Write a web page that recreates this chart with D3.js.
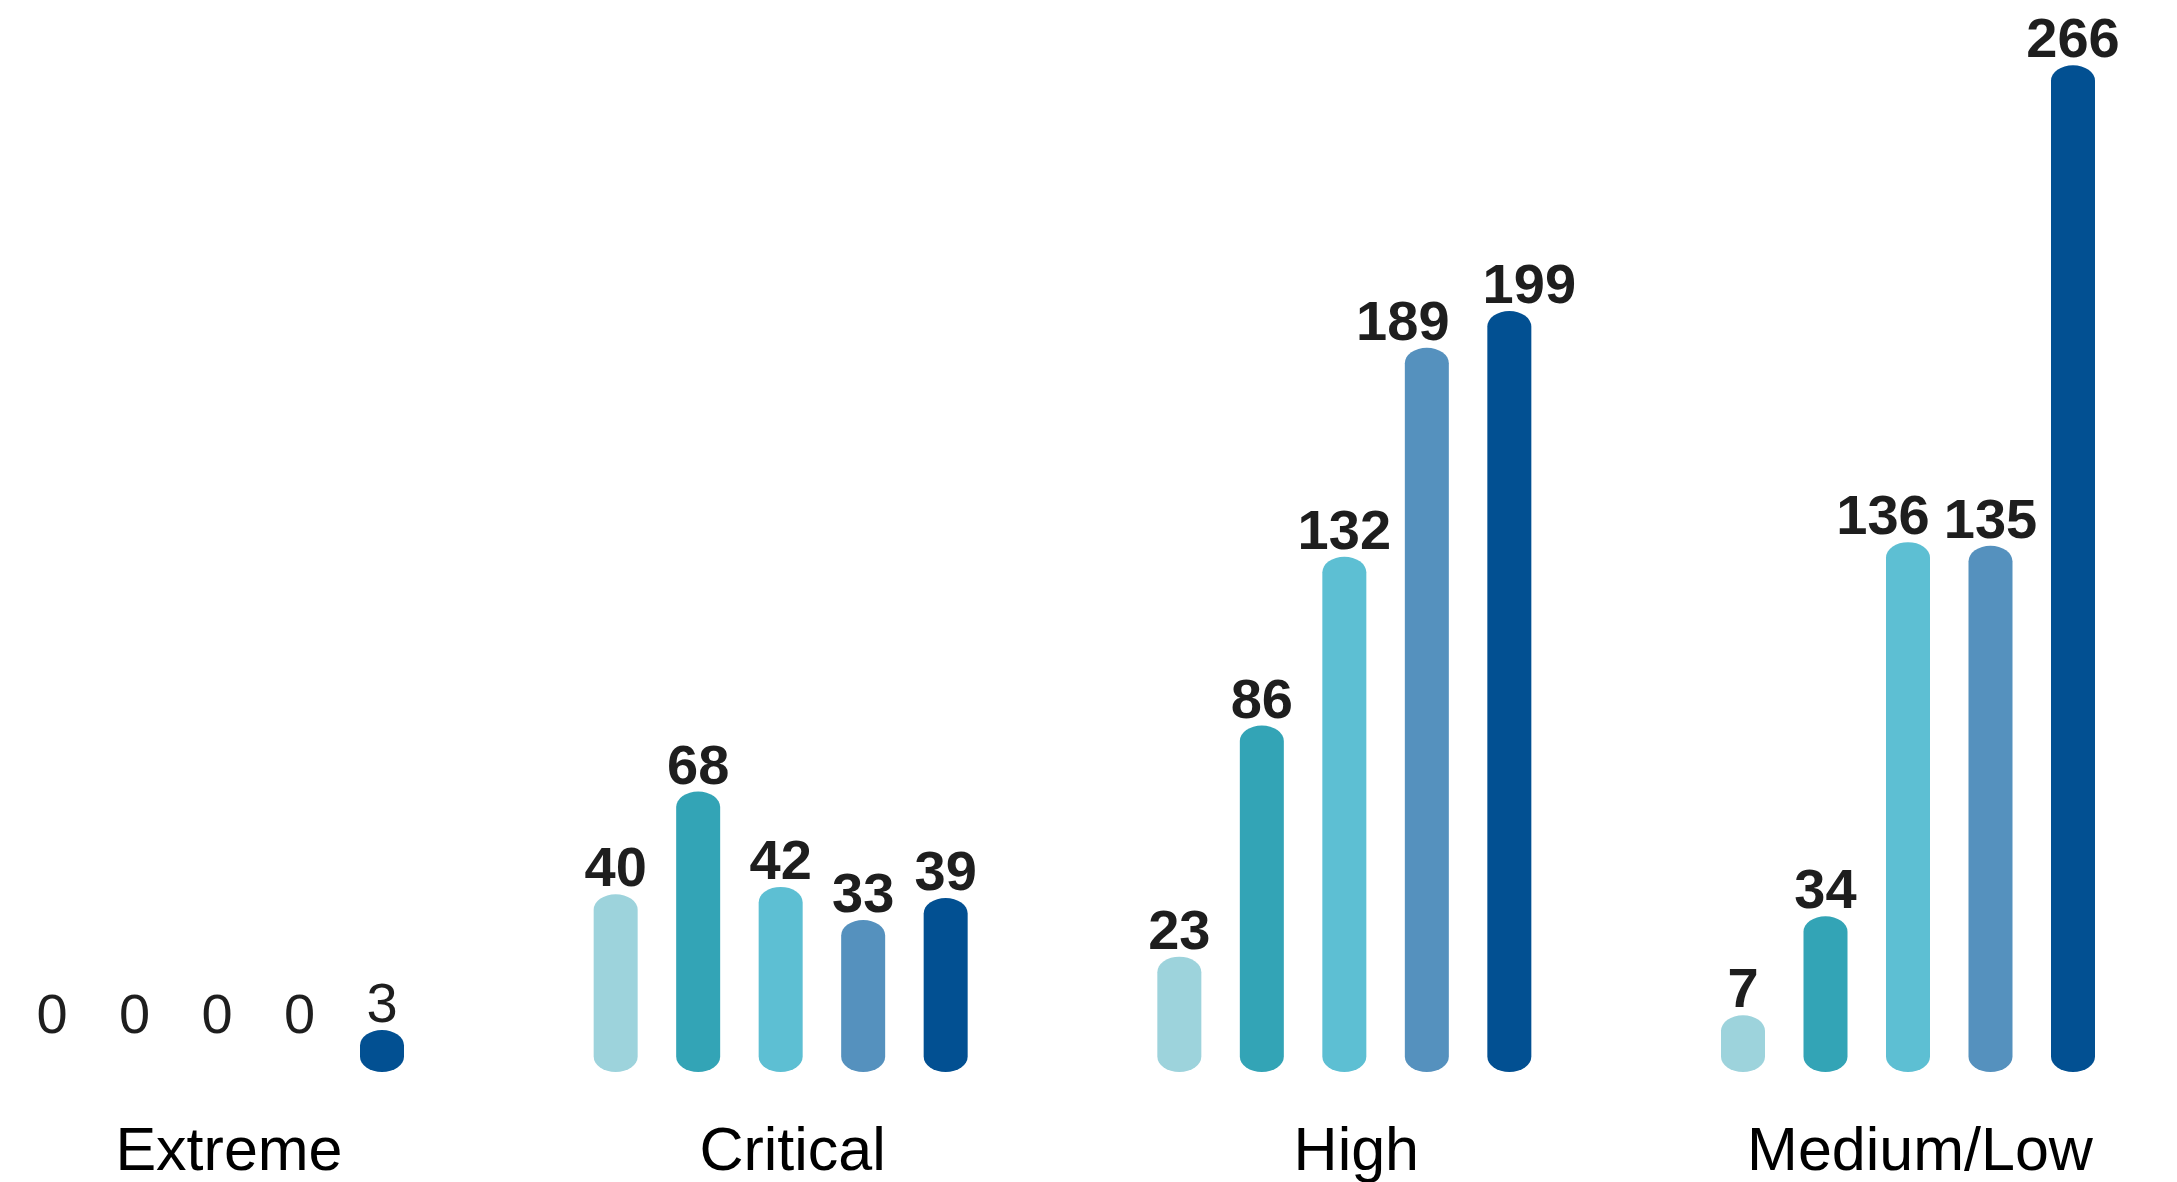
<!DOCTYPE html>
<html>
<head>
<meta charset="utf-8">
<script src="https://cdn.jsdelivr.net/npm/d3@7"></script>
<style>
  html, body { margin: 0; padding: 0; background: #ffffff; }
  svg { display: block; }
</style>
</head>
<body>
<svg id="chart" width="2177" height="1182"></svg>
<script>
// Issue counts by severity, five series per severity group
const categories = ["Extreme", "Critical", "High", "Medium/Low"];
const seriesKeys = ["s1", "s2", "s3", "s4", "s5"];
const s1 = [0, 40, 23, 7];
const s2 = [0, 68, 86, 34];
const s3 = [0, 42, 132, 136];
const s4 = [0, 33, 189, 135];
const s5 = [3, 39, 199, 266];
const seriesColors = ["#9dd3dc", "#33a4b6", "#5dbfd3", "#5591be", "#025092"];

const seriesValues = [s1, s2, s3, s4, s5];

// horizontal nudges for value labels that would otherwise collide
const labelNudge = {
  "High|s4": -24,
  "High|s5": 20,
  "Medium/Low|s3": -25
};

const svg = d3.select("#chart");

// group centres and bar offsets inside a group
const x0 = d3.scalePoint().domain(categories).range([217, 1908]);
const x1 = d3.scalePoint().domain(seriesKeys).range([-165, 165]);
const y = d3.scaleLinear().domain([0, 266]).range([1056.5, 80.8]);

const barW = 44;      // bar width
const capRy = 15.5;   // vertical radius of rounded ends

const rows = [];
categories.forEach((c, ci) => {
  seriesKeys.forEach((k, si) => {
    rows.push({ cat: c, key: k, value: seriesValues[si][ci], color: seriesColors[si], ci });
  });
});

const font = "'Liberation Sans', Arial, Helvetica, sans-serif";

// bars (pill shaped), zero values draw no bar
svg.append("g")
  .selectAll("rect")
  .data(rows.filter(d => d.value > 0))
  .join("rect")
  .attr("x", d => x0(d.cat) + x1(d.key) - barW / 2)
  .attr("y", d => y(d.value) - capRy)
  .attr("width", barW)
  .attr("height", d => y(0) - y(d.value) + 2 * capRy)
  .attr("rx", barW / 2)
  .attr("ry", capRy)
  .attr("fill", d => d.color);

// value labels
svg.append("g")
  .selectAll("text")
  .data(rows)
  .join("text")
  .attr("x", d => x0(d.cat) + x1(d.key) + (labelNudge[d.cat + "|" + d.key] || 0))
  .attr("y", d => y(d.value) - capRy - 8)
  .attr("text-anchor", "middle")
  .attr("font-family", font)
  .attr("font-size", 56)
  .attr("font-weight", d => d.ci === 0 ? "normal" : "bold")
  .attr("fill", "#1e1e1e")
  .text(d => d.value);

// category labels
svg.append("g")
  .selectAll("text")
  .data(categories)
  .join("text")
  .attr("x", d => x0(d) + 12)
  .attr("y", 1170)
  .attr("text-anchor", "middle")
  .attr("font-family", font)
  .attr("font-size", 61)
  .attr("fill", "#000000")
  .text(d => d);
</script>
</body>
</html>
